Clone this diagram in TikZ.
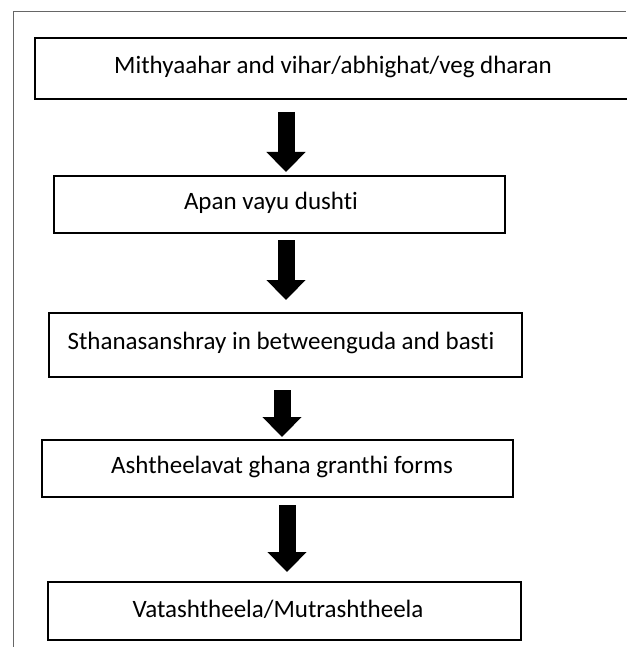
\documentclass[tikz,border=0pt]{standalone}
\usepackage{fontspec}
\setmainfont{Carlito}[Ligatures={NoCommon}]
\usetikzlibrary{arrows.meta}
\begin{document}
\begin{tikzpicture}[x=1pt,y=-1pt,
  stepbox/.style={draw=black,line width=1.6pt},
  steptext/.style={inner sep=0pt,font=\fontsize{25}{30}\selectfont},
  blockarrow/.style={line width=17pt,-{Triangle[length=20pt,width=38pt]}},
  frame/.style={draw=black!60,line width=1pt}]
\useasboundingbox (0,0) rectangle (626,647);
\draw[frame] (13,647) -- (13,12) -- (626,12);
% boxes
\draw[stepbox] (35,38) rectangle (631,99);
\node[steptext] (b1) at (333,66.5) {Mithyaahar and vihar/abhighat/veg dharan};
\draw[stepbox] (54,176) rectangle (505,233);
\node[steptext] (b2) at (271,203) {Apan vayu dushti};
\draw[stepbox] (49,313) rectangle (522,377);
\node[steptext] (b3) at (281,343) {Sthanasanshray in betweenguda and basti};
\draw[stepbox] (42,440) rectangle (513,497);
\node[steptext] (b4) at (282,467) {Ashtheelavat ghana granthi forms};
\draw[stepbox] (48,582) rectangle (521,640);
\node[steptext] (b5) at (278,609.5) {Vatashtheela/Mutrashtheela};
% arrows
\coordinate (a1s) at (286,112); \coordinate (a1e) at (286,172);
\coordinate (a2s) at (286,240); \coordinate (a2e) at (286,300);
\coordinate (a3s) at (282,390); \coordinate (a3e) at (282,437);
\coordinate (a4s) at (287,505); \coordinate (a4e) at (287,572);
\draw[blockarrow] (a1s) -- (a1e);
\draw[blockarrow] (a2s) -- (a2e);
\draw[blockarrow] (a3s) -- (a3e);
\draw[blockarrow] (a4s) -- (a4e);
\end{tikzpicture}
\end{document}
